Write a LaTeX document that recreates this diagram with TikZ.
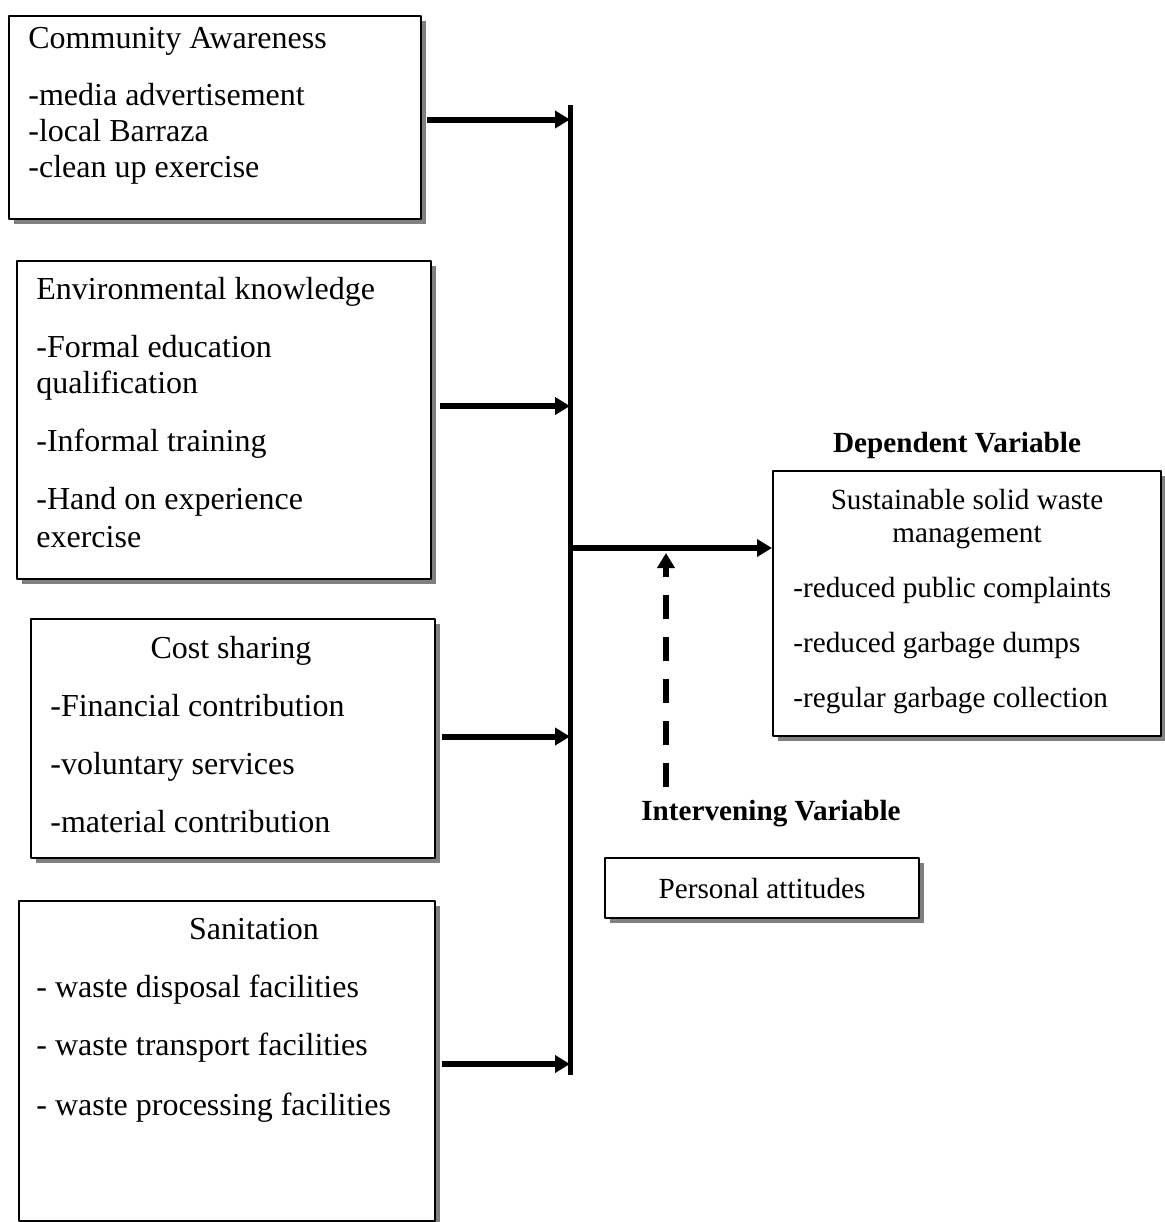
\documentclass[tikz,border=0pt]{standalone}
\usepackage{fontspec}
\setmainfont{Liberation Serif}
\usetikzlibrary{arrows.meta,shadows}
\begin{document}
\begin{tikzpicture}[x=0.5pt,y=-0.5pt,line join=round,font=\fontsize{16}{19}\selectfont]
	\tikzset{varbox/.style={draw,line width=1pt,fill=white,inner sep=0pt,anchor=north west,
			drop shadow={shadow xshift=2.5pt,shadow yshift=-2.5pt,fill=black!50,opacity=1}},
		item/.style={anchor=base west,inner sep=0pt},
		head/.style={anchor=base,inner sep=0pt},
		rside/.style={font=\fontsize{14.6}{17}\selectfont},
		flow/.style={line width=3pt,-{Triangle[length=7.5pt,width=8.5pt]}},
		dashflow/.style={flow,dash pattern=on 12pt off 9pt}}
	\useasboundingbox (0,0) rectangle (1165,1222);
	%%%% Cac hop bien doc lap
	\node[varbox,minimum width=206pt,minimum height=101.5pt] (aware) at (8,15) {};
	\node[varbox,minimum width=207pt,minimum height=159pt] (envk) at (16,260) {};
	\node[varbox,minimum width=202pt,minimum height=119.5pt] (cost) at (30,618) {};
	\node[varbox,minimum width=208pt,minimum height=160pt] (sanit) at (18,900) {};
	%chu trong hop
	\foreach \txt/\yy [count=\i] in {Community Awareness/48,-media advertisement/105,-local Barraza/141,-clean up exercise/177}
	\node[item] (aw\i) at (28,\yy) {\txt};
	\foreach \txt/\yy [count=\i] in {Environmental knowledge/299,-Formal education/357,qualification/393,-Informal training/451,-Hand on experience/509,exercise/547}
	\node[item] (ek\i) at (36,\yy) {\txt};
	\node[head] (cs0) at (231,658) {Cost sharing};
	\foreach \txt/\yy [count=\i] in {-Financial contribution/716,-voluntary services/774,-material contribution/832}
	\node[item] (cs\i) at (50,\yy) {\txt};
	\node[head] (sa0) at (254,939) {Sanitation};
	\foreach \txt/\yy [count=\i] in {- waste disposal facilities/997,- waste transport facilities/1055,- waste processing facilities/1115}
	\node[item] (sa\i) at (36,\yy) {\txt};
	%%%% Bien phu thuoc
	\node[head,rside,font=\bfseries\fontsize{14.6}{17}\selectfont] (deplab) at (957,452) {Dependent Variable};
	\node[varbox,minimum width=194pt,minimum height=132.5pt] (dep) at (772,470) {};
	\node[head,rside] (dp0) at (967,509) {Sustainable solid waste};
	\node[head,rside] (dp00) at (967,542) {management};
	\foreach \txt/\yy [count=\i] in {-reduced public complaints/597,-reduced garbage dumps/652,-regular garbage collection/707}
	\node[item,rside] (dp\i) at (793,\yy) {\txt};
	%%%% Bien trung gian
	\node[head,rside,font=\bfseries\fontsize{14.6}{17}\selectfont] (intv) at (771,820) {Intervening Variable};
	\node[varbox,rside,minimum width=157pt,minimum height=30pt] (attit) at (604,857) {Personal attitudes};
	%%%% Thanh doc va mui ten
	\coordinate (bartop) at (570,105);
	\coordinate (barbot) at (570,1075);
	\draw[line width=2.5pt] (bartop) -- (barbot);
	\draw[flow] ([shift={(5,2)}]aware.east) coordinate (a1) -- (a1 -| bartop);
	\draw[flow] ([shift={(8,-14)}]envk.east) coordinate (a2) -- (a2 -| bartop);
	\draw[flow] ([shift={(6,-2)}]cost.east) coordinate (a3) -- (a3 -| bartop);
	\draw[flow] ([shift={(6,3)}]sanit.east) coordinate (a4) -- (a4 -| bartop);
	\coordinate (junct) at (570,548);
	\draw[flow] (junct) -- (junct -| dep.west);
	\coordinate (dashfoot) at (666,787);
	\draw[dashflow] (dashfoot) -- ([yshift=-2.5pt]dashfoot |- junct);
\end{tikzpicture}
\end{document}
